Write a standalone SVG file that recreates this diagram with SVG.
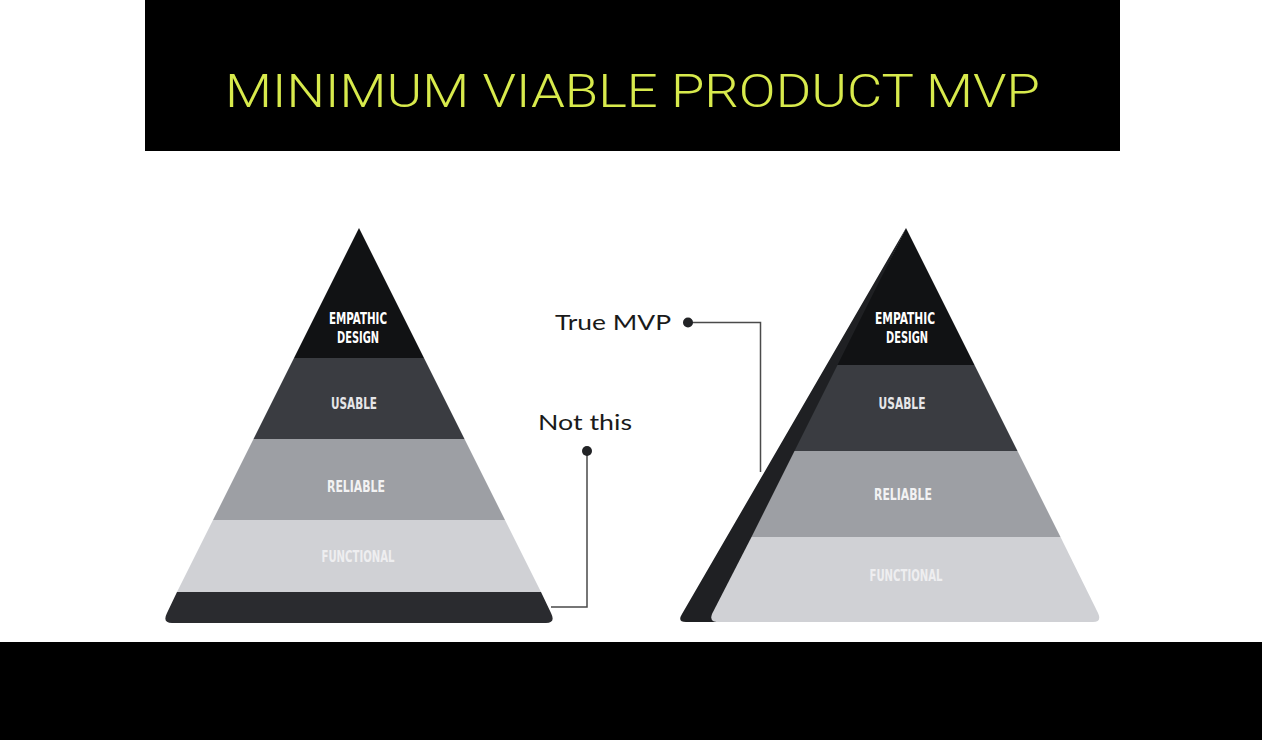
<svg xmlns="http://www.w3.org/2000/svg" width="1262" height="740" viewBox="0 0 1262 740">
  <style>
    .band-lbl { font-family: "DejaVu Sans Condensed", "DejaVu Sans", sans-serif; font-stretch: condensed; font-weight: bold; font-size: 15.5px; text-anchor: middle; }
    .lbl { font-family: "Lato", "Open Sans", sans-serif; font-size: 22px; fill: #1a1a1a; }
    .conn { fill: none; stroke: #4a4a4a; stroke-width: 1.5; }
    .dot { fill: #222326; }
  </style>
  <rect x="0" y="0" width="1262" height="740" fill="#ffffff"/>

  <g id="title">
    <rect x="145" y="0" width="975" height="151" fill="#000000"/>
    <text x="225" y="107" font-family="Roboto, 'Liberation Sans', sans-serif" font-weight="300" font-size="47" fill="#d8ea4c" textLength="815" lengthAdjust="spacingAndGlyphs">MINIMUM VIABLE PRODUCT MVP</text>
  </g>

  <g id="pyramid-left">
    <polygon points="359,228 424,358 294,358" fill="#111214"/>
    <polygon points="294,358 424,358 464.5,439 253.5,439" fill="#3a3c41"/>
    <polygon points="253.5,439 464.5,439 505,520 213,520" fill="#9d9fa4"/>
    <polygon points="213,520 505,520 541,592 177,592" fill="#d0d1d5"/>
    <path d="M177,592 L541,592 L551,613 Q556,623 546,623 L172,623 Q162,623 167,613 Z" fill="#2a2b2f"/>
    <text class="band-lbl" x="358" y="323.5" fill="#ffffff" textLength="58" lengthAdjust="spacingAndGlyphs">EMPATHIC</text>
    <text class="band-lbl" x="358" y="342.5" fill="#ffffff" textLength="42" lengthAdjust="spacingAndGlyphs">DESIGN</text>
    <text class="band-lbl" x="354" y="408.5" fill="#e6e6e8" textLength="46" lengthAdjust="spacingAndGlyphs">USABLE</text>
    <text class="band-lbl" x="356" y="491.5" fill="#f2f2f3" textLength="58" lengthAdjust="spacingAndGlyphs">RELIABLE</text>
    <text class="band-lbl" x="358" y="561.5" fill="#eeeef0" textLength="73" lengthAdjust="spacingAndGlyphs">FUNCTIONAL</text>
  </g>

  <g id="pyramid-right">
    <path d="M906,228 L682,614 Q677,622 686,622 L716,622 Z" fill="#1f2023"/>
    <polygon points="906,228 974.5,365 837.5,365" fill="#111214"/>
    <polygon points="837.5,365 974.5,365 1017.5,451 794.5,451" fill="#3a3c41"/>
    <polygon points="794.5,451 1017.5,451 1060.5,537 751.5,537" fill="#9d9fa4"/>
    <path d="M751.5,537 L1060.5,537 L1098,613 Q1102,622 1093,622 L718,622 Q709,622 712,614 Z" fill="#d0d1d5"/>
    <text class="band-lbl" x="905" y="323.5" fill="#ffffff" textLength="60" lengthAdjust="spacingAndGlyphs">EMPATHIC</text>
    <text class="band-lbl" x="907" y="342.5" fill="#ffffff" textLength="42" lengthAdjust="spacingAndGlyphs">DESIGN</text>
    <text class="band-lbl" x="902" y="408.5" fill="#e6e6e8" textLength="47" lengthAdjust="spacingAndGlyphs">USABLE</text>
    <text class="band-lbl" x="903" y="499.5" fill="#f2f2f3" textLength="58" lengthAdjust="spacingAndGlyphs">RELIABLE</text>
    <text class="band-lbl" x="906" y="580.5" fill="#eeeef0" textLength="73" lengthAdjust="spacingAndGlyphs">FUNCTIONAL</text>
  </g>

  <g id="label-true-mvp">
    <text class="lbl" x="555" y="330" textLength="116" lengthAdjust="spacingAndGlyphs">True MVP</text>
  </g>
  <g id="label-not-this">
    <text class="lbl" x="538" y="430" textLength="94" lengthAdjust="spacingAndGlyphs">Not this</text>
  </g>

  <g id="connectors">
    <polyline class="conn" points="688,322.5 760.5,322.5 760.5,472"/>
    <circle class="dot" cx="688" cy="322.5" r="5"/>
    <polyline class="conn" points="587,451 587,607 551,607"/>
    <circle class="dot" cx="587" cy="451" r="5"/>
  </g>

  <rect id="footer" x="0" y="642" width="1262" height="98" fill="#000000"/>
</svg>
